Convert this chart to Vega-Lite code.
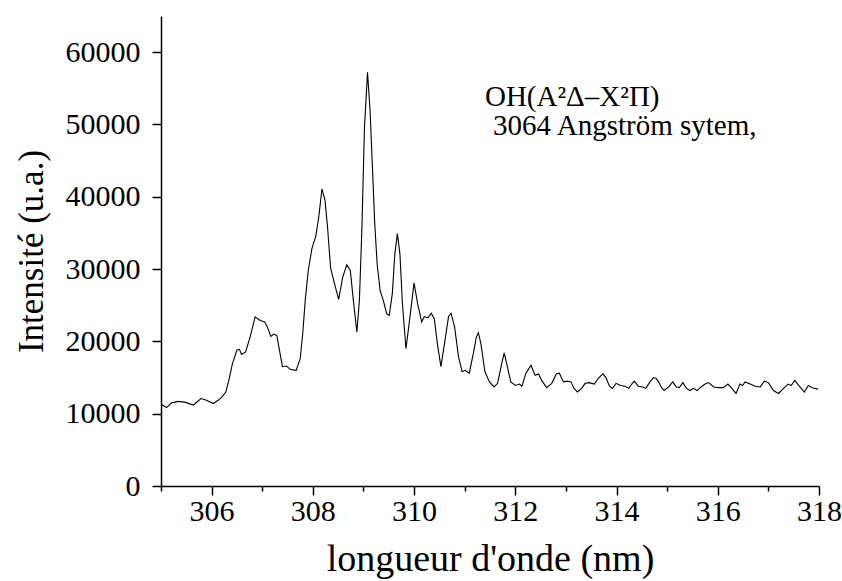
{
  "$schema": "https://vega.github.io/schema/vega-lite/v6.json",
  "width": 658,
  "height": 470,
  "autosize": {"type": "none"},
  "padding": {"left": 161, "top": 16, "right": 23, "bottom": 95},
  "background": "white",
  "config": {"view": {"stroke": null}, "font": "Liberation Serif"},
  "datasets": {
    "spectrum": [
      {"wl": 305.00, "I": 11300}, {"wl": 305.11, "I": 10850}, {"wl": 305.21, "I": 11500}, {"wl": 305.34, "I": 11700},
      {"wl": 305.47, "I": 11600}, {"wl": 305.64, "I": 11200}, {"wl": 305.79, "I": 12100}, {"wl": 305.90, "I": 11850},
      {"wl": 306.03, "I": 11400}, {"wl": 306.13, "I": 11850}, {"wl": 306.20, "I": 12300}, {"wl": 306.28, "I": 13000},
      {"wl": 306.34, "I": 14600}, {"wl": 306.41, "I": 16900}, {"wl": 306.50, "I": 18800}, {"wl": 306.55, "I": 18900},
      {"wl": 306.59, "I": 18200}, {"wl": 306.67, "I": 18500}, {"wl": 306.76, "I": 20600}, {"wl": 306.86, "I": 23400},
      {"wl": 306.96, "I": 22900}, {"wl": 307.05, "I": 22700}, {"wl": 307.10, "I": 22000}, {"wl": 307.17, "I": 20700},
      {"wl": 307.23, "I": 21000}, {"wl": 307.29, "I": 20800}, {"wl": 307.34, "I": 18800}, {"wl": 307.40, "I": 16500},
      {"wl": 307.48, "I": 16600}, {"wl": 307.56, "I": 16100}, {"wl": 307.67, "I": 16000}, {"wl": 307.75, "I": 17600},
      {"wl": 307.80, "I": 21100}, {"wl": 307.85, "I": 25700}, {"wl": 307.91, "I": 29800}, {"wl": 307.98, "I": 32800},
      {"wl": 308.06, "I": 34600}, {"wl": 308.12, "I": 37400}, {"wl": 308.18, "I": 41100}, {"wl": 308.24, "I": 39500},
      {"wl": 308.29, "I": 35800}, {"wl": 308.35, "I": 30200}, {"wl": 308.42, "I": 28200}, {"wl": 308.51, "I": 25800},
      {"wl": 308.59, "I": 28900}, {"wl": 308.67, "I": 30600}, {"wl": 308.74, "I": 29800}, {"wl": 308.80, "I": 25700},
      {"wl": 308.87, "I": 21300}, {"wl": 308.92, "I": 25700}, {"wl": 308.97, "I": 35800}, {"wl": 309.02, "I": 49600},
      {"wl": 309.08, "I": 57200}, {"wl": 309.13, "I": 52000}, {"wl": 309.18, "I": 43600}, {"wl": 309.22, "I": 36700},
      {"wl": 309.27, "I": 30700}, {"wl": 309.33, "I": 27000}, {"wl": 309.39, "I": 25700}, {"wl": 309.46, "I": 23800},
      {"wl": 309.51, "I": 23600}, {"wl": 309.57, "I": 26600}, {"wl": 309.62, "I": 32100}, {"wl": 309.67, "I": 34900},
      {"wl": 309.72, "I": 32100}, {"wl": 309.77, "I": 25200}, {"wl": 309.84, "I": 19000}, {"wl": 309.91, "I": 22900},
      {"wl": 310.00, "I": 28100}, {"wl": 310.07, "I": 25200}, {"wl": 310.10, "I": 24300}, {"wl": 310.15, "I": 22700},
      {"wl": 310.20, "I": 23400}, {"wl": 310.28, "I": 23300}, {"wl": 310.34, "I": 23900}, {"wl": 310.40, "I": 23100},
      {"wl": 310.46, "I": 19700}, {"wl": 310.53, "I": 16500}, {"wl": 310.61, "I": 20100}, {"wl": 310.68, "I": 23400},
      {"wl": 310.73, "I": 23900}, {"wl": 310.80, "I": 22000}, {"wl": 310.88, "I": 17800}, {"wl": 310.95, "I": 15800},
      {"wl": 311.01, "I": 16000}, {"wl": 311.09, "I": 15600}, {"wl": 311.17, "I": 18300}, {"wl": 311.23, "I": 20600},
      {"wl": 311.27, "I": 21200}, {"wl": 311.32, "I": 19700}, {"wl": 311.40, "I": 15800}, {"wl": 311.49, "I": 14400},
      {"wl": 311.58, "I": 13700}, {"wl": 311.65, "I": 14200}, {"wl": 311.73, "I": 16900}, {"wl": 311.78, "I": 18400},
      {"wl": 311.83, "I": 16900}, {"wl": 311.91, "I": 14400}, {"wl": 312.00, "I": 13900}, {"wl": 312.08, "I": 14100},
      {"wl": 312.13, "I": 13800}, {"wl": 312.21, "I": 15600}, {"wl": 312.31, "I": 16700}, {"wl": 312.39, "I": 15300},
      {"wl": 312.46, "I": 15500}, {"wl": 312.52, "I": 14600}, {"wl": 312.62, "I": 13600}, {"wl": 312.72, "I": 14200},
      {"wl": 312.81, "I": 15500}, {"wl": 312.87, "I": 15600}, {"wl": 312.95, "I": 14400}, {"wl": 313.03, "I": 14500},
      {"wl": 313.10, "I": 14400}, {"wl": 313.16, "I": 13500}, {"wl": 313.23, "I": 13000}, {"wl": 313.31, "I": 13500},
      {"wl": 313.38, "I": 14200}, {"wl": 313.46, "I": 14300}, {"wl": 313.56, "I": 14100}, {"wl": 313.64, "I": 14900},
      {"wl": 313.73, "I": 15500}, {"wl": 313.79, "I": 15000}, {"wl": 313.86, "I": 13800}, {"wl": 313.92, "I": 13500},
      {"wl": 313.99, "I": 14200}, {"wl": 314.08, "I": 13900}, {"wl": 314.17, "I": 13800}, {"wl": 314.24, "I": 13500},
      {"wl": 314.30, "I": 14100}, {"wl": 314.35, "I": 14500}, {"wl": 314.43, "I": 13800}, {"wl": 314.52, "I": 13700},
      {"wl": 314.58, "I": 13500}, {"wl": 314.66, "I": 14400}, {"wl": 314.73, "I": 15000}, {"wl": 314.78, "I": 14900},
      {"wl": 314.83, "I": 14400}, {"wl": 314.88, "I": 13700}, {"wl": 314.94, "I": 13200}, {"wl": 315.03, "I": 13700},
      {"wl": 315.11, "I": 14400}, {"wl": 315.18, "I": 13700}, {"wl": 315.24, "I": 13600}, {"wl": 315.31, "I": 14300},
      {"wl": 315.38, "I": 13500}, {"wl": 315.45, "I": 13200}, {"wl": 315.52, "I": 13500}, {"wl": 315.59, "I": 13200},
      {"wl": 315.67, "I": 13700}, {"wl": 315.75, "I": 14100}, {"wl": 315.82, "I": 14300}, {"wl": 315.92, "I": 13700},
      {"wl": 316.01, "I": 13600}, {"wl": 316.11, "I": 13600}, {"wl": 316.20, "I": 14100}, {"wl": 316.28, "I": 13500},
      {"wl": 316.36, "I": 12800}, {"wl": 316.44, "I": 14100}, {"wl": 316.49, "I": 13900}, {"wl": 316.54, "I": 14400},
      {"wl": 316.64, "I": 14100}, {"wl": 316.74, "I": 13800}, {"wl": 316.84, "I": 13700}, {"wl": 316.92, "I": 14500},
      {"wl": 317.00, "I": 14300}, {"wl": 317.10, "I": 13200}, {"wl": 317.20, "I": 12800}, {"wl": 317.30, "I": 13500},
      {"wl": 317.39, "I": 14100}, {"wl": 317.45, "I": 13900}, {"wl": 317.52, "I": 14600}, {"wl": 317.61, "I": 13800},
      {"wl": 317.71, "I": 13000}, {"wl": 317.79, "I": 13900}, {"wl": 317.87, "I": 13600}, {"wl": 317.98, "I": 13400}
    ],
    "notes": [
      {"wl": 311.40, "I": 52600, "label": "OH(A²Δ–X²Π)"},
      {"wl": 311.56, "I": 48550, "label": "3064 Angström sytem,"}
    ]
  },
  "layer": [
    {
      "data": {"name": "spectrum"},
      "mark": {"type": "line", "color": "black", "strokeWidth": 1.1, "clip": true},
      "encoding": {
        "x": {
          "field": "wl", "type": "quantitative",
          "scale": {"domain": [305, 318], "nice": false, "zero": false},
          "axis": {
            "title": "longueur d'onde (nm)",
            "values": [305, 306, 307, 308, 309, 310, 311, 312, 313, 314, 315, 316, 317, 318],
            "format": "d",
            "labelExpr": "datum.value % 2 == 0 ? datum.label : ''",
            "grid": false,
            "domainColor": "black", "domainWidth": 1.5,
            "tickColor": "black", "tickWidth": 1.5,
            "tickSize": {"condition": {"test": "datum.value % 2 == 0", "value": 9}, "value": 5},
            "labelFont": "Liberation Serif", "labelFontSize": 30, "labelColor": "black",
            "labelPadding": 1, "labelFlush": false, "labelOverlap": false,
            "titleFont": "Liberation Serif", "titleFontSize": 38, "titleFontWeight": "normal",
            "titleColor": "black", "titlePadding": 14
          }
        },
        "y": {
          "field": "I", "type": "quantitative",
          "scale": {"domain": [0, 65000], "nice": false},
          "axis": {
            "title": "Intensité (u.a.)",
            "values": [0, 5000, 10000, 15000, 20000, 25000, 30000, 35000, 40000, 45000, 50000, 55000, 60000],
            "format": "d",
            "labelExpr": "datum.value % 10000 == 0 ? datum.label : ''",
            "grid": false,
            "domainColor": "black", "domainWidth": 1.5,
            "tickColor": "black", "tickWidth": 1.5, "tickSize": 9,
            "labelFont": "Liberation Serif", "labelFontSize": 30, "labelColor": "black",
            "labelPadding": 12, "labelFlush": false, "labelOverlap": false,
            "titleFont": "Liberation Serif", "titleFontSize": 35, "titleFontWeight": "normal",
            "titleColor": "black", "titlePadding": 16
          }
        }
      }
    },
    {
      "data": {"name": "notes"},
      "mark": {"type": "text", "align": "left", "baseline": "alphabetic", "font": "Liberation Serif", "fontSize": 29, "color": "black"},
      "encoding": {
        "x": {"field": "wl", "type": "quantitative"},
        "y": {"field": "I", "type": "quantitative"},
        "text": {"field": "label"}
      }
    }
  ]
}
